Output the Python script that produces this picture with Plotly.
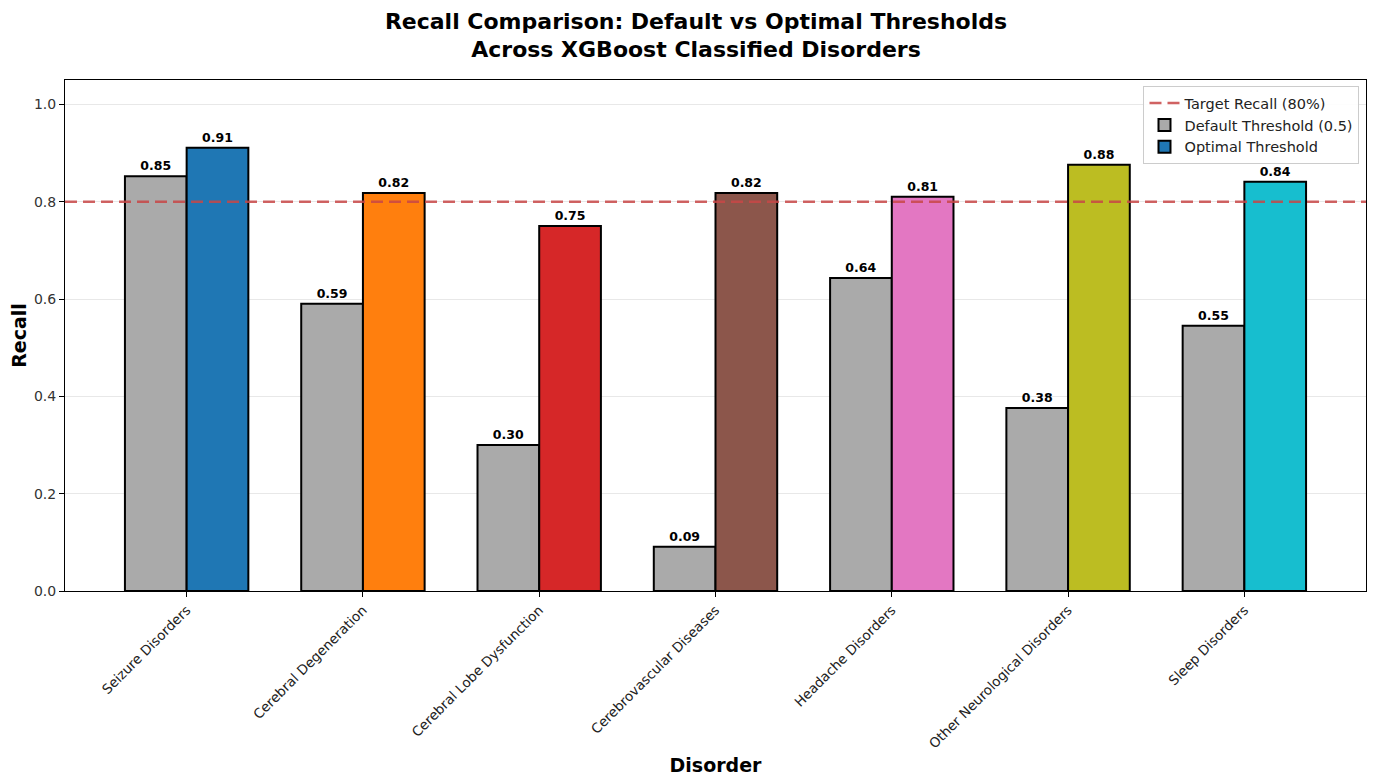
import plotly.graph_objects as go

categories = ["Seizure Disorders", "Cerebral Degeneration", "Cerebral Lobe Dysfunction",
              "Cerebrovascular Diseases", "Headache Disorders", "Other Neurological Disorders",
              "Sleep Disorders"]
default_recall = [0.852, 0.590, 0.300, 0.091, 0.643, 0.376, 0.545]
optimal_recall = [0.911, 0.818, 0.750, 0.818, 0.810, 0.876, 0.841]
optimal_colors = ["#1f77b4", "#ff7f0e", "#d62728", "#8c564b", "#e377c2", "#bcbd22", "#17becf"]
target_recall = 0.8
y_ticks = [0.0, 0.2, 0.4, 0.6, 0.8, 1.0]

xpos = list(range(len(categories)))
font = "DejaVu Sans"
line_color = "rgba(200,70,70,0.85)"

fig = go.Figure()
fig.add_trace(go.Scatter(x=[None], y=[None], mode="lines", name="Target Recall (80%)",
                         line=dict(color=line_color, width=2.5, dash="12px,6px")))
fig.add_trace(go.Bar(x=xpos, y=default_recall, name="Default Threshold (0.5)",
                     marker=dict(color="#aaaaaa", line=dict(color="black", width=2)),
                     text=[f"{v:.2f}" for v in default_recall], textposition="outside",
                     textfont=dict(family=font, size=12.5, color="black", weight="bold"),
                     cliponaxis=False))
fig.add_trace(go.Bar(x=xpos, y=optimal_recall, name="Optimal Threshold",
                     marker=dict(color=optimal_colors, line=dict(color="black", width=2)),
                     text=[f"{v:.2f}" for v in optimal_recall], textposition="outside",
                     textfont=dict(family=font, size=12.5, color="black", weight="bold"),
                     cliponaxis=False))
fig.add_shape(type="line", xref="paper", x0=0, x1=1, yref="y", y0=target_recall, y1=target_recall,
              line=dict(color=line_color, width=2.5, dash="12px,6px"), layer="above")

fig.update_layout(
    width=1376, height=784,
    margin=dict(l=57, r=18, t=72, b=201),
    paper_bgcolor="white", plot_bgcolor="white",
    font=dict(family=font, color="#333333"),
    title=dict(text="Recall Comparison: Default vs Optimal Thresholds<br>Across XGBoost Classified Disorders",
               x=0.5, xanchor="center", y=0.9736, yanchor="top",
               font=dict(family=font, size=22, color="black", weight="bold")),
    barmode="group", bargap=0.3, bargroupgap=0,
    legend=dict(x=0.995, y=0.988, xanchor="right", yanchor="top",
                bgcolor="rgba(255,255,255,0.9)", bordercolor="#cccccc", borderwidth=1,
                font=dict(family=font, size=14.5, color="#222222"), traceorder="normal"),
    xaxis=dict(tickvals=xpos, ticktext=categories, tickangle=-45, range=[-0.69, 6.69],
               automargin=False,
               showgrid=False, showline=True, linecolor="black", linewidth=1, mirror=True,
               ticks="outside", ticklen=5, tickcolor="black",
               tickfont=dict(family=font, size=13.5, color="#222222"),
               title=dict(text="Disorder", font=dict(family=font, size=19, color="black", weight="bold"),
                          standoff=8)),
    yaxis=dict(range=[0, 1.05], tickvals=y_ticks, ticktext=[f"{v:.1f}" for v in y_ticks],
               automargin=False,
               showgrid=True, gridcolor="#e8e8e8", gridwidth=1, zeroline=False,
               showline=True, linecolor="black", linewidth=1, mirror=True,
               ticks="outside", ticklen=5, tickcolor="black",
               tickfont=dict(family=font, size=14, color="#333333"),
               title=dict(text="Recall", font=dict(family=font, size=19, color="black", weight="bold"),
                          standoff=2)),
)

fig.write_html("out.html")
